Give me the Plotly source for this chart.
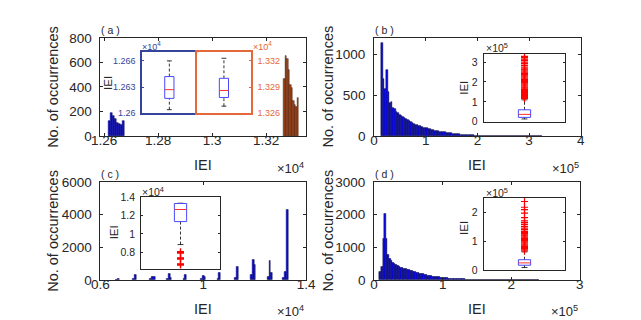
import plotly.graph_objects as go

W, H = 641, 320
INK = '#262626'
BAR_BLUE = '#0808F0'
BAR_EDGE = '#10103a'
BROWN = '#B04A1C'
BROWN_EDGE = '#3a1606'
AX_BLUE = '#34449A'
AX_ORANGE = '#E4683A'
FONT = 'Liberation Sans, Arial, sans-serif'

# ---------------- data ----------------
# (a) two clusters of IEI, in units of 1e4
A_BLUE_RANGE = [1.2615, 1.2674]
A_BLUE_COUNTS = [120, 185, 165, 140, 105, 100, 90, 125]
A_BROWN_RANGE = [1.3265, 1.3321]
A_BROWN_COUNTS = [465, 650, 630, 540, 420, 390, 290, 250, 240, 315]
# box stats: lower whisker, q1, median, q3, upper whisker
A_BOX_BLUE = [1.2604, 1.2617, 1.2627, 1.2642, 1.2660]
A_BOX_ORANGE = [1.3268, 1.3278, 1.3286, 1.3300, 1.3323]

# (b) IEI in units of 1e5
B_RANGE = [0.14, 3.25]
B_COUNTS = [1140, 700, 575, 805, 540, 410, 420, 350, 330, 300,
            280, 262, 245, 232, 218, 205, 192, 180, 170, 160,
            150, 142, 134, 126, 119, 112, 106, 100, 94, 88,
            83, 78, 73, 68, 64, 60, 56, 52, 48, 45,
            42, 39, 36, 33, 30, 28, 26, 24, 22, 20,
            18, 16, 15, 14, 12, 11, 10, 9, 8, 8,
            7, 6, 6, 5, 5, 4, 4, 4, 3, 3,
            3, 3, 2, 2, 2, 2, 2, 2, 2, 1,
            1, 1, 1, 1, 1, 1, 1, 1, 1, 1,
            1, 1, 1, 1, 1, 1, 1, 1, 1, 1]
B_BOX = [0.14, 0.22, 0.37, 0.60, 1.10]
B_OUTLIERS = [1.16, 1.21, 1.26, 1.31, 1.36, 1.42, 1.47, 1.52, 1.58, 1.63,
              1.69, 1.74, 1.80, 1.86, 1.91, 1.97, 2.02, 2.08, 2.13, 2.19,
              2.25, 2.31, 2.37, 2.43, 2.49, 2.55, 2.61, 2.66, 2.74, 2.83,
              2.92, 3.00, 3.08, 3.15, 3.22, 3.28]

# (c) IEI in units of 1e4
C_BIN_WIDTH = 0.007
C_BIN_CENTERS = [0.662, 0.669, 0.728, 0.735, 0.795, 0.802, 0.809, 0.860, 0.867, 0.874,
                 0.925, 0.932, 0.992, 0.999, 1.006, 1.057, 1.064, 1.126, 1.133, 1.187,
                 1.194, 1.201, 1.252, 1.259, 1.266, 1.312, 1.319, 1.326]
C_COUNTS = [40, 90, 50, 320, 60, 190, 170, 50, 400, 120,
            50, 310, 50, 260, 200, 90, 460, 150, 780, 300,
            1240, 930, 200, 1150, 460, 160, 520, 4300]
C_BOX = [0.885, 1.134, 1.265, 1.330, 1.333]
C_OUTLIERS = [0.808, 0.800, 0.792, 0.742, 0.735, 0.728, 0.677, 0.670, 0.663]

# (d) IEI in units of 1e5
D_RANGE = [0.08, 2.40]
D_COUNTS = [260, 410, 1270, 2020, 1250, 760, 640, 580, 530, 495,
            460, 430, 405, 385, 365, 345, 330, 315, 300, 285,
            270, 255, 240, 228, 215, 203, 190, 178, 165, 152,
            140, 130, 120, 112, 104, 97, 90, 83, 76, 69,
            62, 58, 54, 50, 46, 42, 39, 36, 33, 30,
            27, 25, 23, 21, 19, 17, 16, 15, 14, 12,
            11, 10, 9, 9, 8, 7, 7, 6, 6, 5,
            5, 5, 4, 4, 4, 4, 3, 3, 3, 3,
            3, 3, 2, 2, 2, 2, 2, 2, 2, 1,
            1, 1, 1, 1, 1, 1, 1, 1, 1, 1]
D_BOX = [0.10, 0.18, 0.26, 0.37, 0.64]
D_OUTLIERS = [0.67, 0.71, 0.75, 0.79, 0.83, 0.87, 0.91, 0.95, 0.99, 1.03,
              1.07, 1.11, 1.15, 1.19, 1.23, 1.27, 1.31, 1.35, 1.41, 1.46,
              1.52, 1.59, 1.65, 1.71, 1.82, 1.98, 2.10, 2.18, 2.38]


def px(l, r):
    return [l / W, r / W]


def py(t, b):
    return [1 - b / H, 1 - t / H]


def hist_bars(rng, counts, xa, ya, color, edge):
    n = len(counts)
    w = (rng[1] - rng[0]) / n
    xs = [rng[0] + w * (k + 0.5) for k in range(n)]
    return go.Bar(x=xs, y=counts, width=w, xaxis=xa, yaxis=ya,
                  marker=dict(color=color, line=dict(color=edge, width=0.5)),
                  showlegend=False, hoverinfo='skip')


def box_traces(stats, xa, ya, hw, cw, outliers=None):
    lo, q1, med, q3, hi = stats
    tr = [
        go.Scatter(x=[1, 1, None, 1, 1], y=[q3, hi, None, lo, q1], mode='lines',
                   line=dict(color='black', width=0.8, dash='3px,2px')),
        go.Scatter(x=[1 - cw, 1 + cw, None, 1 - cw, 1 + cw], y=[hi, hi, None, lo, lo],
                   mode='lines', line=dict(color='black', width=0.8)),
        go.Scatter(x=[1 - hw, 1 + hw, 1 + hw, 1 - hw, 1 - hw], y=[q1, q1, q3, q3, q1],
                   mode='lines', line=dict(color='#4848ff', width=1)),
        go.Scatter(x=[1 - hw, 1 + hw], y=[med, med], mode='lines',
                   line=dict(color='#ff3030', width=1)),
    ]
    if outliers:
        tr.append(go.Scatter(x=[1] * len(outliers), y=outliers, mode='markers',
                             marker=dict(symbol='cross-thin-open', size=5, color='red',
                                         line=dict(color='red', width=1.2))))
    for t in tr:
        t.update(xaxis=xa, yaxis=ya, showlegend=False, hoverinfo='skip')
    return tr


fig = go.Figure()
fig.add_trace(hist_bars(A_BLUE_RANGE, A_BLUE_COUNTS, 'x', 'y', BAR_BLUE, BAR_EDGE))
fig.add_trace(hist_bars(A_BROWN_RANGE, A_BROWN_COUNTS, 'x', 'y', BROWN, BROWN_EDGE))
fig.add_trace(hist_bars(B_RANGE, B_COUNTS, 'x2', 'y2', BAR_BLUE, BAR_EDGE))
fig.add_trace(go.Bar(x=C_BIN_CENTERS, y=C_COUNTS, width=C_BIN_WIDTH, xaxis='x3', yaxis='y3',
                     marker=dict(color=BAR_BLUE, line=dict(color=BAR_EDGE, width=0.5)),
                     showlegend=False, hoverinfo='skip'))
fig.add_trace(hist_bars(D_RANGE, D_COUNTS, 'x4', 'y4', BAR_BLUE, BAR_EDGE))

for t in box_traces(A_BOX_BLUE, 'x5', 'y5', 0.085, 0.045):
    fig.add_trace(t)
for t in box_traces(A_BOX_ORANGE, 'x6', 'y6', 0.085, 0.045):
    fig.add_trace(t)
for t in box_traces(B_BOX, 'x7', 'y7', 0.075, 0.036, B_OUTLIERS):
    fig.add_trace(t)
for t in box_traces(C_BOX, 'x8', 'y8', 0.078, 0.037, C_OUTLIERS):
    fig.add_trace(t)
for t in box_traces(D_BOX, 'x9', 'y9', 0.075, 0.036, D_OUTLIERS):
    fig.add_trace(t)


def axis(**kw):
    base = dict(showgrid=False, zeroline=False, showline=True, linecolor=INK, linewidth=1,
                mirror='ticks', ticks='inside', ticklen=3, tickcolor=INK,
                ticklabelstandoff=5,
                tickfont=dict(size=13.5, color=INK, family=FONT))
    base.update(kw)
    return base


def xmain(**kw):
    return axis(ticklabelstandoff=-8, **kw)


def inset_x(dom, color=INK, width=1):
    return dict(domain=dom, range=[0.5, 1.5], showgrid=False, zeroline=False,
                showline=True, linecolor=color, linewidth=width, mirror=True,
                ticks='', showticklabels=False)


layout = dict(
    width=W, height=H, autosize=False,
    margin=dict(l=0, r=0, t=0, b=0),
    paper_bgcolor='white', plot_bgcolor='white',
    font=dict(family=FONT, color=INK), bargap=0, showlegend=False,
    # main panels
    xaxis=xmain(domain=px(86, 298), range=[1.2586, 1.3348], anchor='y',
                tickvals=[1.26, 1.28, 1.30, 1.32], ticktext=['1.26', '1.28', '1.3', '1.32']),
    yaxis=axis(domain=py(24, 127), range=[0, 800], anchor='x', tickvals=[0, 200, 400, 600, 800]),
    xaxis2=xmain(domain=px(368, 581), range=[0, 4], anchor='y2', tickvals=[0, 1, 2, 3, 4]),
    yaxis2=axis(domain=py(24, 127), range=[0, 1200], anchor='x2', tickvals=[0, 500, 1000]),
    xaxis3=xmain(domain=px(86, 298), range=[0.6, 1.4], anchor='y3',
                 tickvals=[0.6, 1.0, 1.4], ticktext=['0.6', '1', '1.4']),
    yaxis3=axis(domain=py(175, 278), range=[0, 6000], anchor='x3', tickvals=[0, 2000, 4000, 6000]),
    xaxis4=xmain(domain=px(368, 580), range=[0, 3], anchor='y4', tickvals=[0, 1, 2, 3]),
    yaxis4=axis(domain=py(175, 278), range=[0, 3000], anchor='x4', tickvals=[0, 1000, 2000, 3000]),
    # insets
    xaxis5=inset_x(px(129, 185), AX_BLUE, 1.6) | dict(anchor='y5'),
    yaxis5=dict(domain=py(39, 103), range=[1.26, 1.267], anchor='x5', showgrid=False,
                zeroline=False, showline=True, linecolor=AX_BLUE, linewidth=1.6, mirror=True,
                ticks='inside', ticklen=2, tickcolor=AX_BLUE, ticklabelstandoff=3,
                tickvals=[1.26, 1.263, 1.266], ticktext=['1.26', '1.263', '1.266'],
                tickfont=dict(size=9, color=AX_BLUE)),
    xaxis6=inset_x(px(185.5, 241), AX_ORANGE, 1.6) | dict(anchor='y6'),
    yaxis6=dict(domain=py(39, 103), range=[1.326, 1.333], anchor='x6', side='right',
                showgrid=False, zeroline=False, showline=True, linecolor=AX_ORANGE,
                linewidth=1.6, mirror=True, ticks='inside', ticklen=2, tickcolor=AX_ORANGE,
                ticklabelstandoff=3,
                tickvals=[1.326, 1.329, 1.332], ticktext=['1.326', '1.329', '1.332'],
                tickfont=dict(size=9, color=AX_ORANGE)),
    xaxis7=inset_x(px(481, 565)) | dict(anchor='y7'),
    yaxis7=axis(domain=py(41, 112), range=[0, 3.4], anchor='x7', tickvals=[0, 1, 2, 3],
                ticklen=2, ticklabelstandoff=3, tickfont=dict(size=10.5, color=INK)),
    xaxis8=inset_x(px(128, 209)) | dict(anchor='y8'),
    yaxis8=axis(domain=py(191, 267), range=[0.615, 1.4], anchor='x8',
                tickvals=[0.8, 1.0, 1.2, 1.4], ticktext=['0.8', '1', '1.2', '1.4'],
                ticklen=2, ticklabelstandoff=3, tickfont=dict(size=10.5, color=INK)),
    xaxis9=inset_x(px(481, 565)) | dict(anchor='y9'),
    yaxis9=axis(domain=py(192, 268), range=[0, 2.5], anchor='x9', tickvals=[0, 1, 2],
                ticklen=2, ticklabelstandoff=3, tickfont=dict(size=10.5, color=INK)),
)


def note(x, y, text, size=14.5, color=INK, xanchor='center', angle=0):
    return dict(x=x / W, y=1 - y / H, xref='paper', yref='paper', text=text, showarrow=False,
                xanchor=xanchor, yanchor='middle', textangle=angle,
                font=dict(size=size, color=color, family=FONT))


ann = [
    note(85, 16, '( a )', 10.5, xanchor='left'),
    note(367, 16, '( b )', 10.5, xanchor='left'),
    note(85, 167, '( c )', 10.5, xanchor='left'),
    note(367, 167, '( d )', 10.5, xanchor='left'),
    note(37, 75.5, 'No. of occurrences', angle=-90),
    note(320, 75.5, 'No. of occurrences', angle=-90),
    note(37, 226.5, 'No. of occurrences', angle=-90),
    note(320, 226.5, 'No. of occurrences', angle=-90),
    note(192, 157, 'IEI'),
    note(474, 157, 'IEI'),
    note(192, 308, 'IEI'),
    note(474, 308, 'IEI'),
    note(298, 160, '×10<sup>4</sup>', 13, xanchor='right'),
    note(581, 160, '×10<sup>5</sup>', 13, xanchor='right'),
    note(298, 311, '×10<sup>4</sup>', 13, xanchor='right'),
    note(580, 311, '×10<sup>5</sup>', 13, xanchor='right'),
    # inset labels
    note(93, 71, 'IEI', 11.5, angle=-90),
    note(127, 33, '×10<sup>4</sup>', 9, AX_BLUE, xanchor='left'),
    note(241, 33, '×10<sup>4</sup>', 9, AX_ORANGE, xanchor='left'),
    note(461, 76, 'IEI', 11.5, angle=-90),
    note(481, 34, '×10<sup>5</sup>', 10.5, xanchor='left'),
    note(100, 228, 'IEI', 11.5, angle=-90),
    note(127, 185, '×10<sup>4</sup>', 10.5, xanchor='left'),
    note(460, 223, 'IEI', 11.5, angle=-90),
    note(481, 186, '×10<sup>5</sup>', 10.5, xanchor='left'),
]
layout['annotations'] = ann

fig.update_layout(**layout)
fig.write_html("out.html")
